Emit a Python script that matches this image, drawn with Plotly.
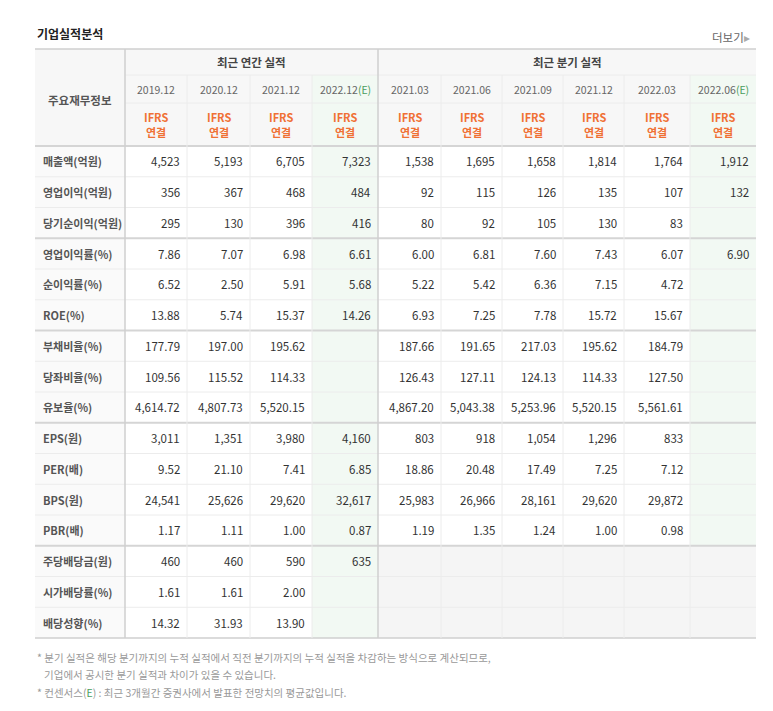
import plotly.graph_objects as go

FONT = "Noto Sans CJK KR"

annual_periods = ["2019.12", "2020.12", "2021.12", "2022.12"]
quarter_periods = ["2021.03", "2021.06", "2021.09", "2021.12", "2022.03", "2022.06"]
estimate_cols = [3, 9]  # index in combined column list

row_labels = ["매출액(억원)", "영업이익(억원)", "당기순이익(억원)", "영업이익률(%)", "순이익률(%)",
              "ROE(%)", "부채비율(%)", "당좌비율(%)", "유보율(%)", "EPS(원)", "PER(배)",
              "BPS(원)", "PBR(배)", "주당배당금(원)", "시가배당률(%)", "배당성향(%)"]
int_rows = {0, 1, 2, 9, 11, 13}

values = [
    [4523, 5193, 6705, 7323, 1538, 1695, 1658, 1814, 1764, 1912],
    [356, 367, 468, 484, 92, 115, 126, 135, 107, 132],
    [295, 130, 396, 416, 80, 92, 105, 130, 83, None],
    [7.86, 7.07, 6.98, 6.61, 6.00, 6.81, 7.60, 7.43, 6.07, 6.90],
    [6.52, 2.50, 5.91, 5.68, 5.22, 5.42, 6.36, 7.15, 4.72, None],
    [13.88, 5.74, 15.37, 14.26, 6.93, 7.25, 7.78, 15.72, 15.67, None],
    [177.79, 197.00, 195.62, None, 187.66, 191.65, 217.03, 195.62, 184.79, None],
    [109.56, 115.52, 114.33, None, 126.43, 127.11, 124.13, 114.33, 127.50, None],
    [4614.72, 4807.73, 5520.15, None, 4867.20, 5043.38, 5253.96, 5520.15, 5561.61, None],
    [3011, 1351, 3980, 4160, 803, 918, 1054, 1296, 833, None],
    [9.52, 21.10, 7.41, 6.85, 18.86, 20.48, 17.49, 7.25, 7.12, None],
    [24541, 25626, 29620, 32617, 25983, 26966, 28161, 29620, 29872, None],
    [1.17, 1.11, 1.00, 0.87, 1.19, 1.35, 1.24, 1.00, 0.98, None],
    [460, 460, 590, 635, None, None, None, None, None, None],
    [1.61, 1.61, 2.00, None, None, None, None, None, None, None],
    [14.32, 31.93, 13.90, None, None, None, None, None, None, None],
]
group_breaks = [3, 6, 9, 13]  # rows that start a new group

footnotes = [
    "* 분기 실적은 해당 분기까지의 누적 실적에서 직전 분기까지의 누적 실적을 차감하는 방식으로 계산되므로,",
    "   기업에서 공시한 분기 실적과 차이가 있을 수 있습니다.",
    "* 컨센서스(<span style='color:#4a9e5c'>E</span>) : 최근 3개월간 증권사에서 발표한 전망치의 평균값입니다.",
]

# geometry (pixel-based axes)
col_edges = [35, 125, 187, 250, 312, 378, 441, 502, 563, 624, 690, 756]
top, h1, h2, h3 = 49, 75, 103, 146
row_h = 30.75
bottom = h3 + row_h * len(row_labels)

shapes, ann = [], []


def rect(x0, y0, x1, y1, color):
    shapes.append(dict(type="rect", x0=x0, y0=y0, x1=x1, y1=y1, fillcolor=color,
                       line=dict(width=0), layer="below"))


def line(x0, y0, x1, y1, color, w=1):
    shapes.append(dict(type="line", x0=x0, y0=y0, x1=x1, y1=y1, line=dict(color=color, width=w)))


def text(x, y, s, size=12, color="#333", anchor="center", bold=False):
    if bold:
        s = "<b>" + s + "</b>"
    ann.append(dict(x=x, y=y, text=s, showarrow=False, xanchor=anchor, yanchor="middle",
                    font=dict(family=FONT, size=size, color=color)))


# backgrounds
rect(col_edges[0], top, col_edges[-1], h3, "#f7f7f7")
rect(col_edges[0], h3, col_edges[1], bottom, "#fafafa")
for c in estimate_cols:
    rect(col_edges[c + 1], h1, col_edges[c + 2], bottom, "#f2f9f3")
rect(col_edges[5], h3 + row_h * 13, col_edges[-1], bottom, "#f5f5f5")

# grid lines
line(col_edges[0], top, col_edges[-1], top, "#cfcfcf", 1.5)
line(col_edges[1], h1, col_edges[-1], h1, "#ececec")
line(col_edges[1], h2, col_edges[-1], h2, "#ececec")
line(col_edges[0], h3, col_edges[-1], h3, "#d5d5d5", 2)
for i in range(1, len(row_labels) + 1):
    y = h3 + row_h * i
    if i in group_breaks:
        line(col_edges[0], y, col_edges[-1], y, "#d5d5d5", 2)
    elif i == len(row_labels):
        line(col_edges[0], y, col_edges[-1], y, "#cfcfcf", 1.5)
    else:
        line(col_edges[0], y, col_edges[-1], y, "#ececec")
for i, x in enumerate(col_edges[1:-1], start=1):
    if i in (1, 5):
        line(x, top, x, bottom, "#cfcfcf", 1.5)
    else:
        line(x, h1, x, bottom, "#ececec")

# titles
text(35, 33, "기업실적분석", 12, "#222", "left", True)
text(752, 37, "더보기<span style='color:#aaa'>▸</span>", 11.5, "#666", "right")
text((col_edges[0] + col_edges[1]) / 2, 100, "주요재무정보", 11.5, "#555", bold=True)
text((col_edges[1] + col_edges[5]) / 2, 62, "최근 연간 실적", 11.5, "#444", bold=True)
text((col_edges[5] + col_edges[-1]) / 2, 62, "최근 분기 실적", 11.5, "#444", bold=True)

periods = annual_periods + quarter_periods
for j, p in enumerate(periods):
    xc = (col_edges[j + 1] + col_edges[j + 2]) / 2
    s = p + ("<span style='color:#4a9e5c'>(E)</span>" if j in estimate_cols else "")
    text(xc, 89, s, 10.5, "#666")
    text(xc, 116.5, "IFRS", 11, "#f07034", bold=True)
    text(xc, 131.5, "연결", 11, "#f07034", bold=True)

for i, lab in enumerate(row_labels):
    yc = h3 + row_h * (i + 0.5)
    text(41, yc, lab, 11, "#555", "left", True)
    for j, v in enumerate(values[i]):
        if v is None:
            continue
        s = f"{v:,}" if i in int_rows else f"{v:,.2f}"
        text(col_edges[j + 2] - 5, yc, s, 11.5, "#333", "right")

for k, f in enumerate(footnotes):
    text(35, 657 + k * 17.5, f, 10.5, "#999", "left")

fig = go.Figure()
fig.update_layout(
    width=773, height=711, margin=dict(l=0, r=0, t=0, b=0),
    paper_bgcolor="white", plot_bgcolor="white",
    # page body adds an 8px offset, so shift the axes to keep pixel coordinates
    xaxis=dict(range=[8, 781], visible=False, fixedrange=True),
    yaxis=dict(range=[719, 8], visible=False, fixedrange=True),
    shapes=shapes, annotations=ann, showlegend=False,
)
fig.write_html("out.html")
